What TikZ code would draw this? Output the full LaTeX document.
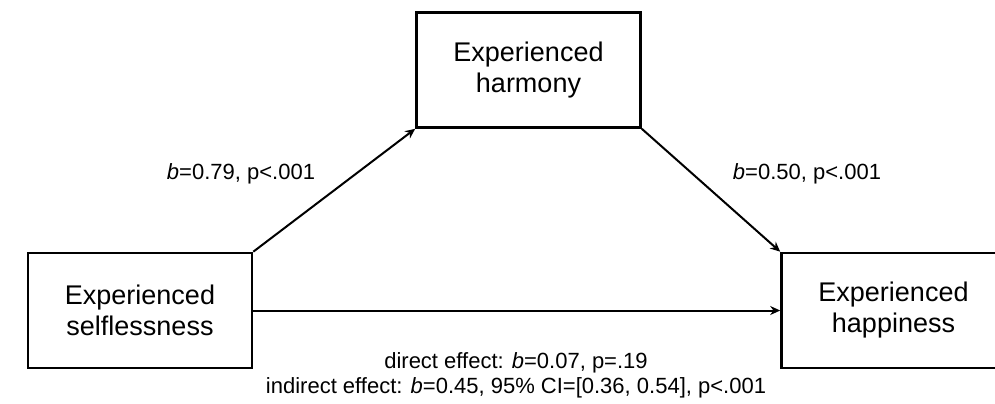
\documentclass[tikz,border=0pt]{standalone}
\usepackage{fontspec}
\setmainfont{Liberation Sans}
\usetikzlibrary{arrows.meta}

\tikzset{
  varbox/.style={draw,line width=1.3pt,minimum width=112pt,minimum height=57.5pt,
    inner sep=0pt,align=center,font=\fontsize{13.5}{15.5}\selectfont},
  coef/.style={font=\fontsize{11}{12.5}\selectfont,align=center},
  path/.style={->,line width=1pt}
}

\begin{document}
\begin{tikzpicture}[x=0.5pt,y=0.5pt,>={Stealth[length=5pt,width=4.5pt]}]
\useasboundingbox (0,0) rectangle (995,403);
% variables
\node[varbox] (self) at (140,92.5) {Experienced\\selflessness};
\node[varbox] (harm) at (528.5,333) {Experienced\\harmony};
\node[varbox] (happ) at (893.5,92.5) {Experienced\\happiness};
% paths
\draw[path] (self.north east) -- (harm.south west);
\draw[path] (harm.south east) -- (happ.north west);
\draw[path] (self) -- (happ);
% coefficients
\node[coef] (ca) at (241,229) {\textit{b}=0.79, p<.001};
\node[coef] (cb) at (807,229) {\textit{b}=0.50, p<.001};
\node[coef] (cc) at (516,28) {direct effect: \textit{b}=0.07, p=.19\\indirect effect: \textit{b}=0.45, 95\% CI=[0.36, 0.54], p<.001};
\end{tikzpicture}
\end{document}
